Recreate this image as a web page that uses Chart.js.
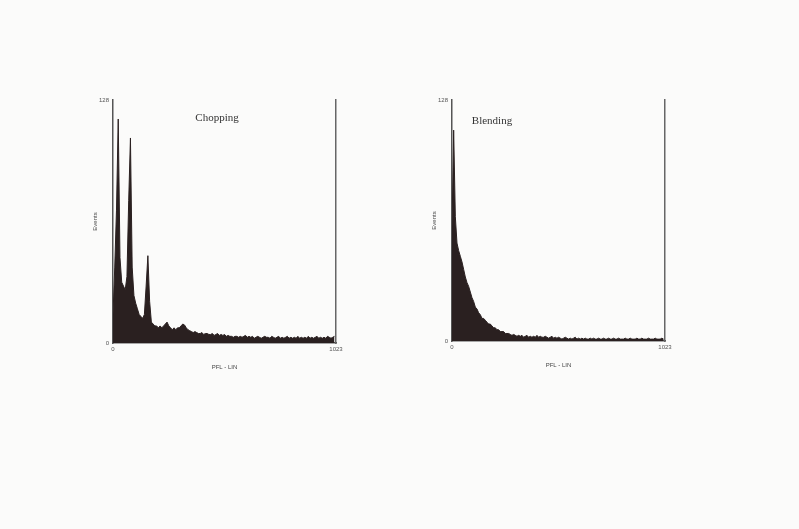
<!DOCTYPE html>
<html>
<head>
<meta charset="utf-8">
<script src="https://cdn.jsdelivr.net/npm/chart.js@4"></script>
<style>
  body { margin: 0; background: #fbfbfa; }
  .box { position: absolute; }
</style>
</head>
<body>
<div class="box" style="left:80px; top:85px;"><canvas id="chop" width="280" height="290"></canvas></div>
<div class="box" style="left:419px; top:85px;"><canvas id="blend" width="270" height="288"></canvas></div>
<script>
// 128 bins of 8 channels each, 0..1023
const binWidth = 8
const yTicks = [0, 128]
const xTicks = [0, 1023]

const chopping = [
    15, 40, 70, 118, 45, 32, 30, 28, 35, 75, 108, 40, 25, 21, 18, 15,
    14, 13, 15, 30, 46, 22, 11, 10, 9, 9, 8, 9, 8, 9, 10, 11,
    9, 8, 7, 8, 7, 8, 8, 9, 10, 9.5, 8, 7, 6.5, 6, 5.5, 6,
    5.5, 5, 5, 5.5, 4.5, 5, 5, 4.5, 4.5, 5, 4, 4.5, 5, 4, 4.5, 4,
    4.5, 3.5, 4, 3.5, 3.5, 3, 3.5, 3.5, 3, 3.5, 3, 3.5, 4, 3, 3.5, 3,
    3.5, 2.5, 3, 3.5, 3, 2.5, 3, 3.5, 3, 3, 2.5, 3.5, 3, 2.5, 3, 3.5,
    2.5, 3, 2.5, 3, 3.5, 2.5, 3, 2.5, 3, 2.5, 3.5, 2.5, 3, 2.5, 3, 2.5,
    3.5, 2.5, 3, 2.5, 3, 3.5, 2.5, 3, 2.5, 3, 2.5, 3.5, 3, 2.5, 3, 3.5
]

const blending = [
    60, 112, 66, 52, 48, 45, 42, 38, 34, 31, 29, 26, 23, 21, 18, 17,
    15, 14, 12, 12, 11, 10, 9, 9, 8, 7, 7, 6, 6, 5, 5, 5,
    4, 4, 4, 3.5, 3, 3.5, 3, 2.5, 3, 2.5, 3, 2, 2.5, 3, 2, 2.5,
    2, 2.5, 2, 3, 2, 2.5, 2, 2, 2.5, 2, 1.5, 2, 2.5, 1.5, 2, 1.5,
    2, 1.5, 1, 1.5, 2, 1.5, 1, 1.5, 1, 1.5, 2, 1, 1.5, 1, 1.5, 1,
    1.5, 1, 1, 1.5, 1, 1.5, 1, 1, 1.5, 1, 1, 1.5, 1, 1, 1.5, 1,
    1, 1.5, 1, 1, 1.5, 1, 1, 1, 1.5, 1, 1, 1.5, 1, 1, 1, 1.5,
    1, 1, 1.5, 1, 1, 1, 1.5, 1, 1, 1, 1.5, 1, 1, 1, 1.5, 1
]

const innerTitle = {
    id: 'innerTitle',
    afterDraw(chart, args, opts) {
        const ctx = chart.ctx
        const a = chart.chartArea
        ctx.save()
        ctx.font = '11px "Liberation Serif"'
        ctx.fillStyle = '#333'
        ctx.textAlign = 'center'
        ctx.fillText(opts.text, a.left + opts.dx, a.top + opts.dy)
        ctx.restore()
    }
}

function histChart(id, title, values, pad, dx, dy) {
    const points = values.map((v, i) => ({ x: i * binWidth, y: v }))
    const tickFont = { family: 'Liberation Sans', size: 6 }

    const config = {
        type: 'line',
        data: {
            datasets: [{
                data: points,
                borderColor: '#2a2020',
                backgroundColor: '#2a2020',
                borderWidth: 1,
                pointRadius: 0,
                fill: 'origin',
                tension: 0
            }]
        },
        options: {
            responsive: false,
            animation: false,
            layout: { padding: pad },
            plugins: {
                legend: { display: false },
                tooltip: { enabled: false },
                innerTitle: { text: title, dx: dx, dy: dy }
            },
            scales: {
                x: {
                    type: 'linear',
                    min: 0,
                    max: 1023,
                    afterBuildTicks: s => { s.ticks = xTicks.map(v => ({ value: v })) },
                    afterFit: s => { s.height = 32 },
                    grid: { display: false, drawTicks: false },
                    border: { color: '#555', width: 1.5 },
                    ticks: { font: tickFont, color: '#555', padding: 3, maxRotation: 0, callback: v => String(v) },
                    title: { display: true, text: 'PFL - LIN', font: tickFont, color: '#444', padding: { top: 4 } }
                },
                y: {
                    min: 0,
                    max: 128,
                    afterBuildTicks: s => { s.ticks = yTicks.map(v => ({ value: v })) },
                    afterFit: s => { s.width = 21 },
                    grid: { display: false, drawTicks: false },
                    border: { color: '#555', width: 1.5 },
                    ticks: { font: tickFont, color: '#555', padding: 4, callback: v => String(v) },
                    title: { display: true, text: 'Events', font: tickFont, color: '#444', padding: 0 }
                },
                y2: {
                    position: 'right',
                    min: 0,
                    max: 128,
                    afterFit: s => { s.width = 0 },
                    grid: { display: false, drawTicks: false },
                    border: { color: '#666', width: 1.5 },
                    ticks: { display: false }
                }
            }
        },
        plugins: [innerTitle]
    }

    let ctx = document.getElementById(id).getContext('2d')
    new Chart(ctx, config)
}

histChart('chop', 'Chopping', chopping, { top: 15, right: 24, left: 12, bottom: 0 }, 104, 21)
histChart('blend', 'Blending', blending, { top: 15, right: 24, left: 12, bottom: 0 }, 40, 24)
</script>
</body>
</html>
